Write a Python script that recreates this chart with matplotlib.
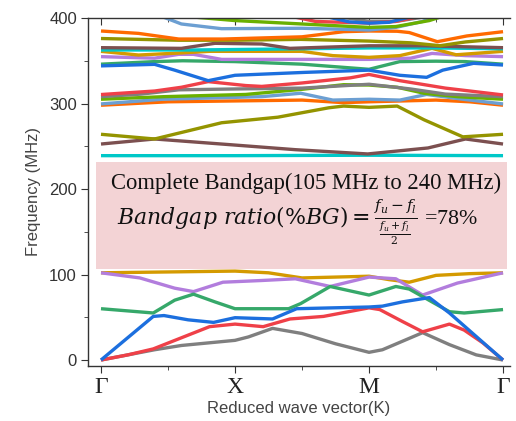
import numpy as np
import matplotlib
matplotlib.use('Agg')
from matplotlib import pyplot as plt
from matplotlib.patches import Rectangle
from matplotlib.ticker import MultipleLocator

#### BAND DATA (k: 0=Gamma, 1=X, 2=M, 3=Gamma), f in MHz ####
gray1_k = [0, 0.2, 0.4, 0.6, 0.8, 1.0, 1.1, 1.28, 1.5, 1.75, 2.0, 2.1, 2.25, 2.4, 2.6, 2.8, 3.0]
gray1_f = [0, 6, 12, 17, 20, 23, 27, 37, 31, 19, 9, 12, 22, 32, 18, 6, 0]
red1_k = [0, 0.2, 0.39, 0.6, 0.81, 1.0, 1.21, 1.41, 1.66, 2.0, 2.08, 2.25, 2.4, 2.6, 2.71, 2.85, 3.0]
red1_f = [0, 6, 13, 26, 39, 42, 39, 48, 51, 61, 59, 45, 33, 42, 35, 20, 0]
blue1_k = [0, 0.39, 0.47, 0.65, 0.84, 1.0, 1.28, 1.46, 2.0, 2.1, 2.25, 2.45, 2.6, 3.0]
blue1_f = [0, 51, 52, 47, 44, 49.5, 48, 60, 62, 63, 68, 73, 55, 0]
green1_k = [0, 0.39, 0.55, 0.69, 0.85, 1.0, 1.4, 1.49, 1.71, 2.0, 2.2, 2.3, 2.6, 2.71, 3.0]
green1_f = [60, 55, 70, 77, 68, 60, 60, 66, 86, 76, 86, 83, 56.5, 55, 59]
purple1_k = [0, 0.29, 0.55, 0.69, 0.91, 1.2, 1.45, 1.71, 2.0, 2.2, 2.4, 2.66, 3.0]
purple1_f = [102, 96, 84, 80, 91, 93, 95, 86, 97, 95, 76, 90, 102]
gold1_k = [0, 0.5, 1.0, 1.25, 1.5, 1.75, 2.0, 2.15, 2.3, 2.5, 2.75, 3.0]
gold1_f = [102, 103, 104, 102, 96, 97, 98, 94, 91, 99, 101, 102]
cyan1_k = [0, 1, 2, 3]
cyan1_f = [239, 239, 239.5, 239]
brown1_k = [0, 0.40, 0.95, 1.45, 1.99, 2.44, 2.72, 3.0]
brown1_f = [252.6, 258.5, 252, 246, 241, 248, 258.5, 252.6]
olive1_k = [0, 0.40, 0.90, 1.32, 1.7, 1.81, 2.0, 2.21, 2.41, 2.70, 3.0]
olive1_f = [264, 258.5, 277.5, 284, 295, 297, 295.5, 297, 281, 261, 264]
orange1_k = [0, 0.5, 1.0, 1.5, 1.81, 2.0, 2.25, 2.5, 2.75, 3.0]
orange1_f = [298, 302, 303, 304, 301, 302, 303, 304, 302, 298]
ltblue1_k = [0, 0.46, 1.2, 1.49, 1.73, 2.0, 2.23, 2.43, 2.7, 3.0]
ltblue1_f = [299.5, 305, 308, 312, 304, 305, 304, 310.6, 305, 299.5]
lime1_k = [0, 0.47, 1.08, 1.5, 1.81, 2.0, 2.21, 2.41, 2.66, 3.0]
lime1_f = [305, 308, 310.6, 316.6, 322, 321.6, 319, 312, 308, 305]
gray2_k = [0, 0.3, 0.58, 1.0, 1.5, 2.0, 2.31, 2.57, 3.0]
gray2_f = [308, 311, 316, 317, 318, 322.5, 317, 311, 308]
red2_k = [0, 0.4, 0.6, 0.8, 1.08, 1.2, 1.5, 1.86, 2.0, 2.23, 2.57, 3.0]
red2_f = [310.5, 314.6, 319, 325.6, 321, 320, 324, 330, 334, 326.7, 318, 310]
blue2_k = [0, 0.40, 0.55, 0.80, 1.0, 1.52, 2.0, 2.23, 2.43, 2.55, 2.78, 3.0]
blue2_f = [344, 345.8, 339, 326.7, 333, 336.4, 339, 333, 330.6, 339, 347, 345]
green2_k = [0, 0.4, 0.61, 1.0, 1.5, 2.0, 2.23, 2.5, 2.72, 3.0]
green2_f = [346, 349, 350, 349, 346, 340, 349, 349.5, 349, 346]
purple2_k = [0, 0.40, 0.58, 0.69, 0.9, 1.5, 2.0, 2.31, 2.47, 2.72, 3.0]
purple2_f = [354.8, 353, 357.5, 357.5, 351.6, 351.6, 351.6, 353, 358.6, 356, 354.8]
gold2_k = [0, 0.28, 0.58, 0.81, 1.5, 1.73, 2.0, 2.23, 2.47, 2.65, 3.0]
gold2_f = [361, 356.7, 359, 361, 361, 356, 354, 356, 364.5, 357, 361]
cyan2_k = [0, 0.7, 1.5, 2.0, 2.5, 3.0]
cyan2_f = [362.6, 362.6, 364, 365, 365, 364]
brown2_k = [0, 0.6, 0.85, 1.2, 1.41, 1.7, 2.0, 2.4, 3.0]
brown2_f = [365.3, 364.5, 370.4, 369.6, 364.5, 366, 367.5, 367.5, 365.3]
olive2_k = [0, 0.58, 1.0, 1.49, 2.0, 2.31, 2.53, 2.72, 3.0]
olive2_f = [376, 374, 374, 375, 373, 371, 367.6, 372, 376]
orange2_k = [0, 0.28, 0.58, 0.91, 1.5, 1.81, 2.0, 2.21, 2.3, 2.51, 2.73, 3.0]
orange2_f = [384.8, 382, 375.4, 375.4, 378, 384, 384.8, 384.5, 383, 372.3, 379, 384]
ltblue2_k = [0.45, 0.6, 0.9, 1.5, 2.0, 2.2, 2.4, 2.5]
ltblue2_f = [402, 393, 387.5, 388, 386, 389, 396, 403]
lime2_k = [0.7, 1.0, 1.5, 2.0, 2.2, 2.45, 2.55]
lime2_f = [401, 397, 393, 389, 390, 397, 402]
red3_k = [1.45, 1.6, 2.0, 2.2, 2.35]
red3_f = [401, 396, 394, 396, 401]
gray3_k = [1.8, 2.0, 2.2, 2.4]
gray3_f = [401, 396, 396, 401]
blue3_k = [1.7, 1.85, 2.0, 2.15, 2.3]
blue3_f = [401, 395.5, 394, 395, 401]

sym_pos = [0, 1, 2, 3]
sym_labels = [u'\u0393', 'X', 'M', u'\u0393']
gap_lo, gap_hi = 106, 232

#### COLOURS ####
c_gray = '#7f7f7f'
c_red = '#ef4048'
c_blue = '#1c6fde'
c_green = '#36a86a'
c_purple = '#b27ddd'
c_gold = '#d49a00'
c_cyan = '#00c8c8'
c_brown = '#7c5050'
c_olive = '#949400'
c_orange = '#ff6a00'
c_ltblue = '#6c9fd2'
c_lime = '#6ab000'

bands = [
    (orange1_k, orange1_f, c_orange), (ltblue1_k, ltblue1_f, c_ltblue),
    (lime1_k, lime1_f, c_lime), (gray2_k, gray2_f, c_gray),
    (red2_k, red2_f, c_red), (green2_k, green2_f, c_green),
    (blue2_k, blue2_f, c_blue), (purple2_k, purple2_f, c_purple),
    (gold2_k, gold2_f, c_gold), (cyan2_k, cyan2_f, c_cyan),
    (brown2_k, brown2_f, c_brown), (olive2_k, olive2_f, c_olive),
    (orange2_k, orange2_f, c_orange), (ltblue2_k, ltblue2_f, c_ltblue),
    (lime2_k, lime2_f, c_lime), (gray3_k, gray3_f, c_gray),
    (red3_k, red3_f, c_red), (blue3_k, blue3_f, c_blue),
    (cyan1_k, cyan1_f, c_cyan), (brown1_k, brown1_f, c_brown),
    (olive1_k, olive1_f, c_olive),
    (gold1_k, gold1_f, c_gold), (purple1_k, purple1_f, c_purple),
    (green1_k, green1_f, c_green), (gray1_k, gray1_f, c_gray),
    (red1_k, red1_f, c_red), (blue1_k, blue1_f, c_blue),
]

fig = plt.figure(figsize=(5.16, 4.21), dpi=100)
ax = fig.add_axes([88/516, 1-366/421, (510-88)/516, (366-18)/421])

for k, f, c in bands:
    ax.plot(k, f, color=c, lw=2.4, solid_joinstyle='round', solid_capstyle='butt')

ax.set_xlim(-0.097, 3.052)
ax.set_ylim(-7, 400)

# bandgap box
ax.add_patch(Rectangle((-0.037, gap_lo), 3.067, gap_hi-gap_lo,
                       facecolor='#f3d3d5', edgecolor='none', zorder=5, clip_on=False))
ax.text(1.53, 200, 'Complete Bandgap(105 MHz to 240 MHz)', family='Liberation Serif',
        fontsize=16.3, ha='center', va='baseline', color='#111111', zorder=6)
ax.text(0.12, 158, r'$Bandgap\ ratio(\%BG) = \frac{f_u-f_l}{\frac{f_u+f_l}{2}}$ =78%',
        family='Liberation Serif', fontsize=15.8, ha='left', va='baseline',
        color='#111111', zorder=6, math_fontfamily='dejavuserif')

# axes styling
for s in ['left', 'bottom', 'top']:
    ax.spines[s].set_color('#333333')
    ax.spines[s].set_linewidth(1.0)
ax.spines['right'].set_visible(False)

ax.set_xticks(sym_pos)
ax.set_xticklabels(sym_labels, family='Liberation Serif', fontsize=17, color='#222222')
ax.xaxis.set_minor_locator(MultipleLocator(0.5))
ax.tick_params(axis='x', which='both', direction='out', top=True, bottom=True, pad=3, colors='#333333', labelcolor='#222222')
ax.tick_params(axis='x', which='major', length=5)
ax.tick_params(axis='x', which='minor', length=3)

ax.set_yticks([0, 100, 200, 300, 400])
ax.yaxis.set_minor_locator(MultipleLocator(50))
ax.tick_params(axis='y', which='both', direction='out', right=False, colors='#333333', labelcolor='#333333')
ax.tick_params(axis='y', which='major', length=5, labelsize=12, pad=3)
ax.tick_params(axis='y', which='minor', length=3)
for lab in ax.get_yticklabels():
    lab.set_family('Liberation Sans')

# top ticks point inwards
for t in ax.xaxis.get_major_ticks() + ax.xaxis.get_minor_ticks():
    t.tick2line.set_marker(3)

ax.set_xlabel('Reduced wave vector(K)', family='Liberation Sans', fontsize=12, color='#444444', labelpad=2)
ax.set_ylabel('Frequency (MHz)', family='Liberation Sans', fontsize=12, color='#444444', labelpad=6)

fig.savefig('out.png', dpi=100)
